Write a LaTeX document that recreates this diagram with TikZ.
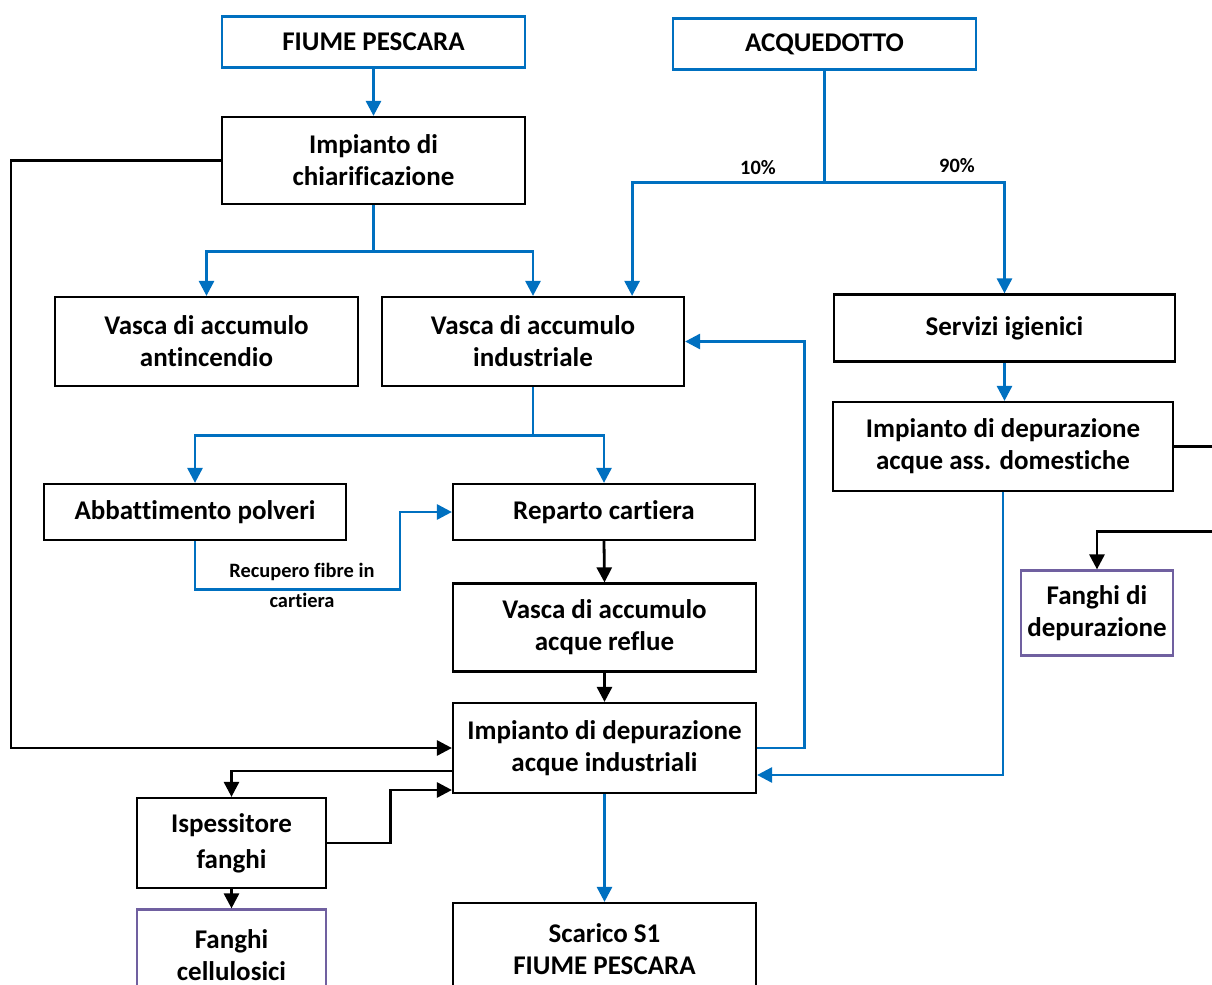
\documentclass[tikz,border=0pt]{standalone}
\usepackage{fontspec}
\setmainfont[Ligatures={NoCommon}]{Carlito}
\usetikzlibrary{arrows.meta}
\definecolor{lblue}{RGB}{0,112,192}
\definecolor{lpurple}{RGB}{112,96,160}
\tikzset{
  box/.style={draw=black, line width=1.1pt, inner sep=0pt, align=center,
    font=\bfseries\fontsize{13.5}{16}\selectfont},
  bbox/.style={box, draw=lblue},
  pbox/.style={box, draw=lpurple},
  bl/.style={draw=lblue, line width=1.4pt, -{Triangle[length=7.5pt,width=7.5pt]}},
  blk/.style={draw=black, line width=1.4pt, -{Triangle[length=7.5pt,width=7.5pt]}},
  bln/.style={draw=lblue, line width=1.4pt},
  lbl/.style={inner sep=0pt, align=center, font=\bfseries\fontsize{10.2}{15}\selectfont}
}
\begin{document}
\begin{tikzpicture}[x=0.5pt,y=-0.5pt]
\useasboundingbox (0,0) rectangle (1212,985);
\node[bbox, minimum width=151.5pt, minimum height=25.5pt] (fiume) at (373.5,42) {FIUME PESCARA};
\node[bbox, minimum width=151.5pt, minimum height=25.5pt] (acq) at (824.5,44) {ACQUEDOTTO};
\node[box, minimum width=151.5pt, minimum height=43.5pt] (chiar) at (373.5,160.5) {Impianto di\\chiarificazione};
\node[box, minimum width=151.5pt, minimum height=44.5pt] (antinc) at (206.5,341.5) {Vasca di accumulo\\antincendio};
\node[box, minimum width=151pt, minimum height=44.5pt] (indus) at (533,341.5) {Vasca di accumulo\\industriale};
\node[box, minimum width=170.5pt, minimum height=33.5pt] (serv) at (1004.5,328) {Servizi igienici};
\node[box, minimum width=170pt, minimum height=44.5pt] (dom) at (1003,446.5) {Impianto di depurazione\\acque ass. domestiche};
\node[box, minimum width=151pt, minimum height=28pt] (abb) at (195,512) {Abbattimento polveri};
\node[box, minimum width=151pt, minimum height=28pt] (rep) at (604,512) {Reparto cartiera};
\node[box, minimum width=151.5pt, minimum height=44pt] (reflue) at (604.5,627.5) {Vasca di accumulo\\acque reflue};
\node[box, minimum width=151.5pt, minimum height=45pt] (idi) at (604.5,748) {Impianto di depurazione\\acque industriali};
\node[box, minimum width=94.5pt, minimum height=45pt, font=\bfseries\fontsize{13.5}{18}\selectfont] (isp) at (231.5,843) {Ispessitore\\fanghi};
\node[pbox, minimum width=94.5pt, minimum height=45.5pt] (fcell) at (231.5,955) {Fanghi\\cellulosici};
\node[box, minimum width=151.5pt, minimum height=46pt] (scar) at (604.5,949) {Scarico S1\\FIUME PESCARA};
\node[pbox, minimum width=76pt, minimum height=42.5pt] (fdep) at (1097,613) {Fanghi di\\depurazione};

% blue flows
\draw[bl] (fiume.south) -- (chiar.north);
\draw[bln] (chiar.south) -- ++(0,46) coordinate (c1);
\draw[bl] (c1) -| (antinc.north);
\draw[bl] (c1) -| (indus.north);
\draw[bln] (acq.south) -- ++(0,112) coordinate (a1);
\draw[bl] (a1) -| ([xshift=-26.5pt]indus.north east);
\draw[bl] (a1) -| (serv.north);
\node[lbl] (p10) at (758,168) {10\%};
\node[lbl] (p90) at (957,166) {90\%};
\draw[bl] (serv.south) -- (serv.south |- dom.north);
\draw[bl] (dom.south) |- ([yshift=-13.5pt]idi.east);
\draw[bln] (indus.south) -- ++(0,48) coordinate (i1);
\draw[bl] (i1) -| (abb.north);
\draw[bl] (i1) -| (rep.north);
\draw[bl] (abb.south) -- ++(0,48) -- ++(205,0) |- (rep.west);
\node[lbl] (rec) at (302,585) {Recupero fibre in\\cartiera};
\draw[bl] (idi.south) -- (scar.north);
\draw[bl] (idi.east) -- ++(47,0) |- (indus.east);

% black flows
\draw[blk] (dom.east) -- ++(57,0) -- ++(0,85) -| (fdep.north);
\draw[blk] (rep.south) -- (reflue.north);
\draw[blk] (reflue.south) -- (idi.north);
\draw[blk] (chiar.west) -- ++(-210,0) |- (idi.west);
\draw[blk] ([yshift=-11.5pt]idi.west) -| (isp.north);
\draw[blk] (isp.east) -- ++(63,0) |- ([yshift=-21pt]idi.west);
\draw[blk] (isp.south) -- (fcell.north);
\end{tikzpicture}
\end{document}
